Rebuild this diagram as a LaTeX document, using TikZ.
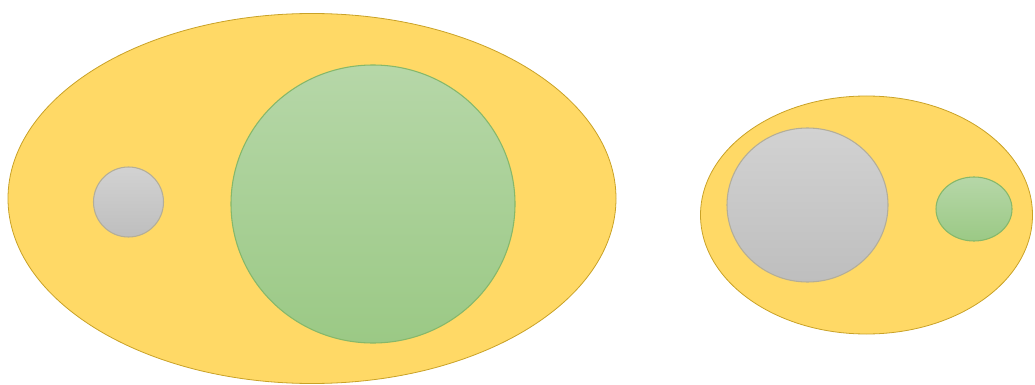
\documentclass[tikz,border=0pt]{standalone}
\definecolor{goldfill}{HTML}{FFD966}
\definecolor{goldline}{HTML}{C9A227}
\definecolor{greentop}{HTML}{B6D7A8}
\definecolor{greenbot}{HTML}{9BC985}
\definecolor{greenline}{HTML}{86B86A}
\definecolor{graytop}{HTML}{D2D2D2}
\definecolor{graybot}{HTML}{BEBEBE}
\definecolor{grayline}{HTML}{B4AE98}
\tikzset{
  goldshape/.style={fill=goldfill, draw=goldline, line width=0.6pt},
  greenshape/.style={top color=greentop, bottom color=greenbot, draw=greenline, line width=0.8pt},
  grayshape/.style={top color=graytop, bottom color=graybot, draw=grayline, line width=0.8pt}
}
\begin{document}
\begin{tikzpicture}[x=0.75pt,y=-0.75pt]
\useasboundingbox (0,0) rectangle (1035,385);
% left group
\path[goldshape] (312,198.5) ellipse [x radius=304, y radius=185];
\path[greenshape] (373,204) ellipse [x radius=142, y radius=139];
\path[grayshape] (128.5,202) circle [radius=35];
% right group
\path[goldshape] (866.5,215) ellipse [x radius=166, y radius=119];
\path[grayshape] (807.5,205) ellipse [x radius=80.5, y radius=77];
\path[greenshape] (974,209) ellipse [x radius=38, y radius=32];
\end{tikzpicture}
\end{document}
